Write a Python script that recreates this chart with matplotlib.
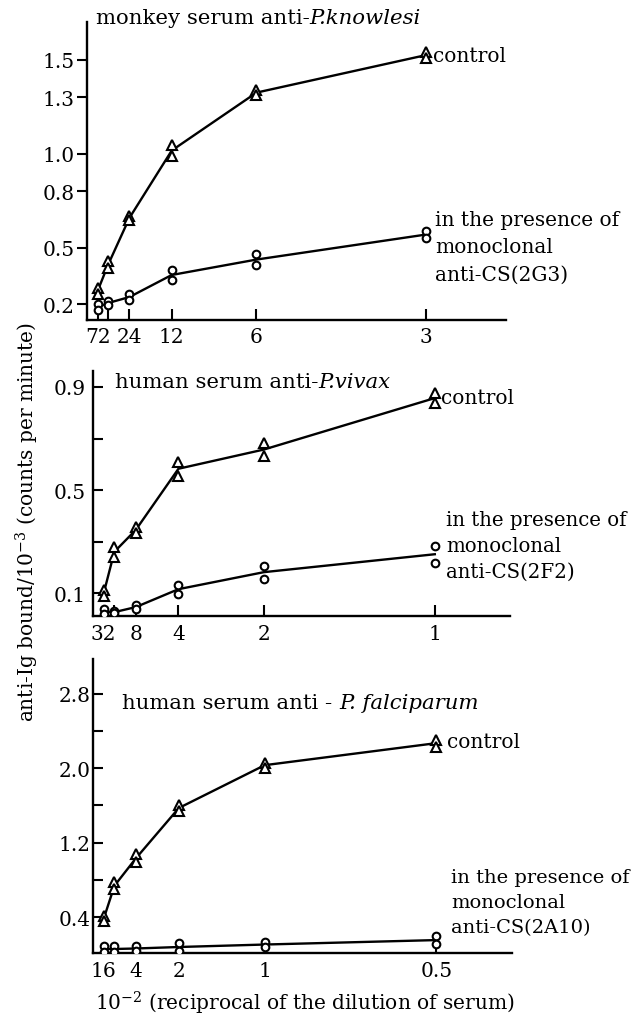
import numpy as np
import matplotlib.pyplot as plt

plt.rcParams['font.family'] = ['DejaVu Serif']
plt.rcParams['mathtext.fontset'] = 'dejavuserif'

# top panel: monkey serum anti-P.knowlesi
knowlesi_dilution = [96, 48, 24, 12, 6, 3]
knowlesi_xlabels = ['72', '', '24', '12', '6', '3']
knowlesi_ctrl_a = [0.285, 0.429, 0.668, 1.046, 1.338, 1.540]
knowlesi_ctrl_b = [0.253, 0.391, 0.647, 0.987, 1.311, 1.508]
knowlesi_mab_a = [0.200, 0.216, 0.253, 0.381, 0.466, 0.588]
knowlesi_mab_b = [0.168, 0.195, 0.221, 0.328, 0.407, 0.551]
knowlesi_yticks = [0.2, 0.5, 0.8, 1.0, 1.3, 1.5]
knowlesi_ylabels = ['0.2', '0.5', '0.8', '1.0', '1.3', '1.5']

# middle panel: human serum anti-P.vivax
vivax_dilution = [32, 16, 8, 4, 2, 1]
vivax_xlabels = ['32', '', '8', '4', '2', '1']
vivax_ctrl_a = [0.111, 0.280, 0.357, 0.610, 0.682, 0.878]
vivax_ctrl_b = [0.089, 0.242, 0.334, 0.556, 0.633, 0.836]
vivax_mab_a = [0.039, 0.031, 0.054, 0.133, 0.207, 0.284]
vivax_mab_b = [0.020, 0.023, 0.039, 0.099, 0.157, 0.219]
vivax_yticks = [0.1, 0.3, 0.5, 0.7, 0.9]
vivax_ylabels = ['0.1', '', '0.5', '', '0.9']

# bottom panel: human serum anti-P.falciparum
falc_dilution = [16, 8, 4, 2, 1, 0.5]
falc_xlabels = ['16', '', '4', '2', '1', '0.5']
falc_ctrl_a = [0.410, 0.775, 1.075, 1.610, 2.060, 2.308]
falc_ctrl_b = [0.357, 0.700, 0.990, 1.536, 2.007, 2.233]
falc_mab_a = [0.089, 0.089, 0.089, 0.121, 0.132, 0.196]
falc_mab_b = [0.025, 0.025, 0.036, 0.036, 0.078, 0.110]
falc_yticks = [0.4, 0.8, 1.2, 1.6, 2.0, 2.4, 2.8]
falc_ylabels = ['0.4', '', '1.2', '', '2.0', '', '2.8']

W, H = 633, 1020
FS = 14.5


def fx(px):
    return px / W


def fy(py):
    return 1 - py / H


def draw_panel(fig, rect, dilution, ctrl_a, ctrl_b, mab_a, mab_b,
               xmax, ylim, yticks, ylabels, xlabels, ydir, ypad, xpad):
    # rect is given in pixels: left, top, right, bottom
    x0, y0, x1, y1 = rect
    ax = fig.add_axes([fx(x0), fy(y1), (x1 - x0) / W, (y1 - y0) / H])
    x = 1 / np.array(dilution, dtype=float)
    for a, b, mk, ms in [(ctrl_a, ctrl_b, '^', 6.5), (mab_a, mab_b, 'o', 5.5)]:
        # line through the mean of the duplicate points
        mean = (np.array(a) + np.array(b)) / 2
        ax.plot(x, mean, color='black', lw=1.7, zorder=2)
        for vals in (a, b):
            ax.plot(x, vals, ls='none', marker=mk, ms=ms, mfc='white',
                    mec='black', mew=1.5, zorder=3)
    ax.set_xlim(0, xmax)
    ax.set_ylim(*ylim)
    ax.set_xticks(x)
    ax.set_xticklabels(xlabels)
    ax.set_yticks(yticks)
    ax.set_yticklabels(ylabels)
    for side in ['top', 'right']:
        ax.spines[side].set_visible(False)
    for side in ['left', 'bottom']:
        ax.spines[side].set_linewidth(1.7)
    ax.tick_params(axis='x', direction='in', length=8, width=1.5,
                   labelsize=FS, pad=xpad)
    ax.tick_params(axis='y', direction=ydir, length=7, width=1.5,
                   labelsize=FS, pad=ypad)
    ax.patch.set_alpha(0)
    return ax


fig = plt.figure(figsize=(6.33, 10.2), dpi=100)

draw_panel(fig, (87, 23, 506, 321), knowlesi_dilution,
           knowlesi_ctrl_a, knowlesi_ctrl_b, knowlesi_mab_a, knowlesi_mab_b,
           0.412, (0.115, 1.70), knowlesi_yticks, knowlesi_ylabels,
           knowlesi_xlabels, 'out', 2, 5)
draw_panel(fig, (93, 372, 510, 617), vivax_dilution,
           vivax_ctrl_a, vivax_ctrl_b, vivax_mab_a, vivax_mab_b,
           1.22, (0.012, 0.962), vivax_yticks, vivax_ylabels,
           vivax_xlabels, 'in', 5, 6)
draw_panel(fig, (93, 660, 512, 954), falc_dilution,
           falc_ctrl_a, falc_ctrl_b, falc_mab_a, falc_mab_b,
           2.44, (0.014, 3.175), falc_yticks, falc_ylabels,
           falc_xlabels, 'in', 2, 6)

# panel titles: plain part followed by italic species name
TFS = 15.3
titles = [(96, 24, 'monkey serum anti-', 'P.knowlesi'),
          (115, 388, 'human serum anti-', 'P.vivax'),
          (122, 709, 'human serum anti - ', 'P. falciparum')]
for px, py, plain, species in titles:
    t = fig.text(fx(px), fy(py), plain, fontsize=TFS, va='baseline', ha='left')
    fig.canvas.draw()
    bb = t.get_window_extent()
    fig.text(bb.x1 / W, fy(py), species, fontsize=TFS, fontstyle='italic',
             va='baseline', ha='left')

# series labels
fig.text(fx(433), fy(57), 'control', fontsize=FS, va='center', ha='left')
fig.text(fx(441), fy(399), 'control', fontsize=FS, va='center', ha='left')
fig.text(fx(447), fy(743), 'control', fontsize=FS, va='center', ha='left')

fig.text(fx(435), fy(211), 'in the presence of\nmonoclonal\nanti-CS(2G3)',
         fontsize=FS, va='top', ha='left', linespacing=1.55)
fig.text(fx(446), fy(511), 'in the presence of\nmonoclonal\nanti-CS(2F2)',
         fontsize=14.2, va='top', ha='left', linespacing=1.45)
fig.text(fx(451), fy(869), 'in the presence of\nmonoclonal\nanti-CS(2A10)',
         fontsize=14, va='top', ha='left', linespacing=1.5)

# shared axis labels
fig.text(fx(27), fy(522), 'anti-Ig bound/10$^{-3}$ (counts per minute)',
         fontsize=FS, rotation=90, va='center', ha='center')
fig.text(fx(305), fy(1003), '10$^{-2}$ (reciprocal of the dilution of serum)',
         fontsize=FS, va='center', ha='center')

fig.savefig('out.png', dpi=100)
